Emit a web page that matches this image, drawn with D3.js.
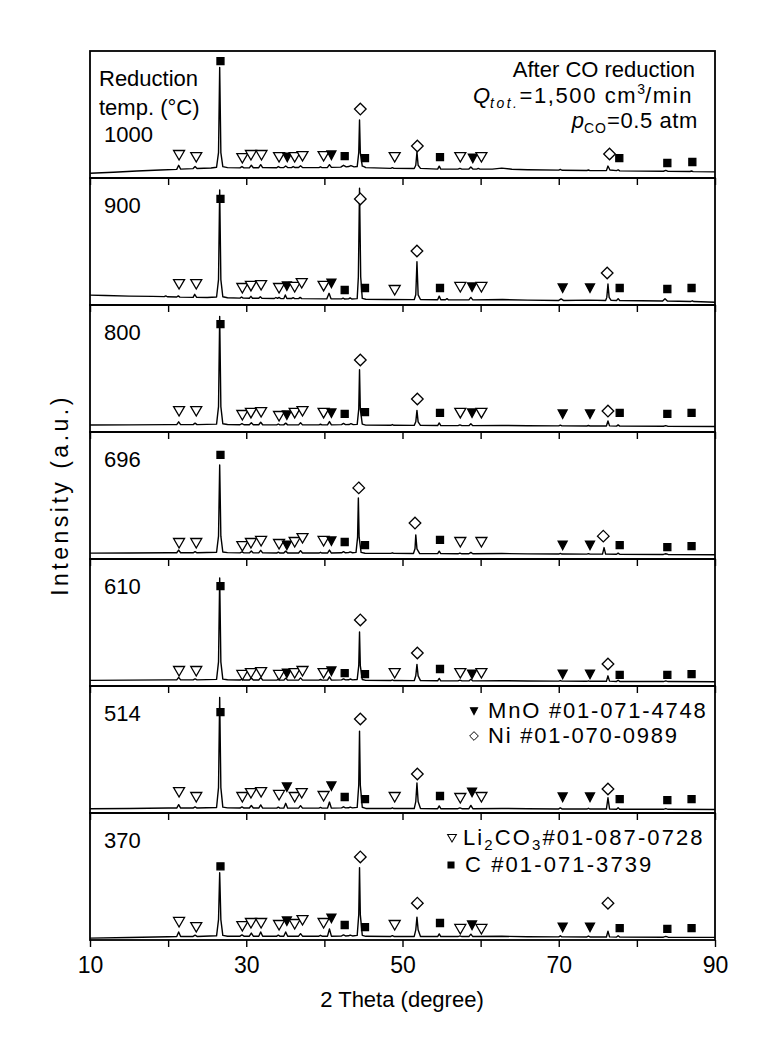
<!DOCTYPE html>
<html><head><meta charset="utf-8">
<script src="https://cdn.jsdelivr.net/npm/d3@7"></script>
<style>
body{margin:0;background:#fff}
svg{display:block}
text{font-family:"Liberation Sans",Arial,sans-serif;fill:#000}
</style>
</head><body>
<svg id="chart" width="771" height="1046"></svg>
<script>
// ---------------- DATA ----------------
const temps = ["1000","900","800","696","610","514","370"];
const xTicks = [10,20,30,40,50,60,70,80,90];
const xTickLabels = [10,30,50,70,90];

// XRD traces [2theta, intensity (a.u., 0-100 per panel)]
const trace1000 = [[10,3.7],[13,4.5],[16,5.5],[19,6.3],[21.1,6.8],[21.35,10],[21.6,7],[23.2,7.4],[23.45,9],[23.7,7.5],[25.5,7.9],[26.2,8.5],[26.45,20],[26.6,87],[26.75,20],[27,9],[27.6,8.2],[29.2,8],[29.45,9],[29.7,8],[30.4,8],[30.65,10],[30.9,8.1],[31.6,8.1],[31.85,10.5],[32.1,8.2],[33.9,8.1],[34.1,9],[34.35,8.2],[34.8,8.2],[35.05,9.5],[35.3,8.2],[35.8,8.2],[36.0,9],[36.2,8.3],[36.7,8.3],[36.95,9.6],[37.2,8.3],[39.3,8.2],[39.5,8.8],[39.7,8.2],[40.4,8.3],[40.65,10.5],[40.9,8.4],[42.1,8.6],[42.45,10],[42.8,8.8],[43.1,9],[43.4,9.8],[43.8,8.8],[44.2,9],[44.4,20],[44.5,45.7],[44.6,20],[44.85,9.4],[45.0,9.2],[45.3,8.2],[48.5,7.6],[48.7,8.2],[48.9,7.6],[51.5,7.5],[51.7,10],[51.85,20.5],[52.0,10],[52.3,7.6],[54.5,7],[54.7,9.3],[54.9,7],[57.1,7],[57.35,7.6],[57.6,7],[58.5,7],[58.75,8.6],[59.0,7],[59.5,7],[59.7,7.5],[59.9,7],[61.5,7],[62.7,7.8],[64,6.9],[66,6.5],[70,6.2],[70.2,6.8],[70.4,6.1],[73.6,5.9],[73.8,6.3],[74,5.8],[76.1,5.8],[76.3,9.4],[76.55,6.3],[77.4,5.8],[77.6,6.5],[77.8,5.6],[83.4,5.3],[83.7,6.0],[84,5.2],[86.8,5.1],[87,5.5],[87.2,5],[90,4.8]];
const trace900 = [[10,7.8],[12,7.5],[15,7],[18,6.8],[19.5,6.6],[19.7,7.2],[19.9,6.5],[21.1,6.3],[21.3,7.2],[21.5,6.2],[23.2,6.0],[23.4,8.4],[23.65,6.0],[25,5.9],[26.2,6.3],[26.45,20],[26.6,90.5],[26.75,20],[27,6.5],[27.6,5.7],[29.2,5.4],[29.4,6.3],[29.6,5.4],[30.4,5.3],[30.6,6.8],[30.8,5.3],[31.6,5.3],[31.8,6.5],[32,5.3],[33.6,5.1],[33.8,5.9],[34.0,5.2],[34.2,6.0],[34.4,5.1],[34.8,5.0],[35.0,7.9],[35.2,5.1],[35.8,5.1],[36.0,5.8],[36.2,5.0],[36.7,5.0],[36.9,6],[37.1,5],[40.3,4.8],[40.6,9.2],[40.85,4.9],[42.2,4.8],[42.4,5.4],[42.6,4.7],[43.1,4.8],[43.3,5.6],[43.5,4.7],[44.2,5],[44.35,22],[44.5,92],[44.65,22],[44.85,5.2],[45.3,4.5],[48,4.3],[51.5,4.2],[51.7,8],[51.85,34],[52,8],[52.3,4.3],[54.5,4.1],[54.7,7],[54.9,4.1],[55.5,4.1],[55.7,5],[55.9,4],[58.5,4],[58.75,6],[59,4],[62.8,4.3],[66,3.8],[70,3.6],[70.3,4.8],[70.6,3.6],[73.8,3.8],[76,3.5],[76.15,6],[76.3,16.5],[76.45,6],[76.7,3.7],[77.4,3.6],[77.6,5],[77.8,3.5],[83.3,3.1],[83.6,5],[83.9,3.1],[86.9,2.8],[87.1,3.3],[87.3,2.7],[90,2.2]];
const trace800 = [[10,5.5],[15,5.6],[20,5.8],[21.1,5.8],[21.35,8],[21.6,5.8],[23.2,5.8],[23.45,7],[23.7,5.8],[26.2,6.2],[26.45,20],[26.6,91],[26.75,20],[27,6.5],[27.6,5.9],[29.2,5.7],[29.45,6.6],[29.7,5.7],[30.4,5.7],[30.65,7.2],[30.9,5.7],[31.6,5.7],[31.85,7.7],[32.1,5.7],[33.9,5.6],[34.1,6.3],[34.3,5.6],[34.8,5.6],[35.05,7],[35.3,5.6],[36.7,5.6],[36.95,7.2],[37.2,5.6],[39.3,5.6],[39.5,6.1],[39.7,5.6],[40.4,5.6],[40.65,8.2],[40.9,5.6],[42.2,5.8],[42.45,6.8],[42.7,5.8],[43.2,5.9],[43.4,6.6],[43.7,5.8],[44.2,6],[44.4,18],[44.5,49],[44.6,18],[44.85,6.2],[45.3,5.4],[48.5,5.3],[48.7,5.9],[48.9,5.3],[51.5,5.2],[51.7,8],[51.85,17],[52,8],[52.3,5.2],[54.5,5.1],[54.7,7.1],[54.9,5.1],[57.1,5],[57.35,5.6],[57.6,5],[58.5,5],[58.75,6.5],[59,5],[62.7,5.2],[66,4.9],[70,4.8],[70.2,5.4],[70.4,4.8],[73.6,4.7],[73.8,5.1],[74,4.7],[76.1,4.7],[76.3,8.7],[76.5,4.8],[77.4,4.6],[77.6,5.6],[77.8,4.6],[83.4,4.5],[83.7,5.0],[84,4.4],[90,4.3]];
const trace696 = [[10,4.6],[15,4.7],[20,4.9],[21.1,4.9],[21.35,7],[21.6,4.9],[23.2,4.9],[23.45,5.8],[23.7,4.9],[26.2,5.3],[26.45,18],[26.6,74],[26.75,18],[27,5.5],[27.6,5],[29.2,4.8],[29.45,5.6],[29.7,4.8],[30.4,4.8],[30.65,6.3],[30.9,4.8],[31.6,4.8],[31.85,6.8],[32.1,4.8],[33.9,4.7],[34.1,5.4],[34.3,4.7],[34.8,4.7],[35.05,6.2],[35.3,4.7],[36.7,4.7],[36.95,6.6],[37.2,4.7],[39.3,4.7],[39.5,5.3],[39.7,4.7],[40.4,4.7],[40.65,7],[40.9,4.7],[42.2,4.9],[42.45,5.8],[42.7,4.9],[43.1,5],[43.3,5.6],[43.6,4.9],[44.05,5.2],[44.25,17],[44.35,48],[44.45,17],[44.7,5.2],[45.2,4.5],[48.5,4.4],[48.7,4.9],[48.9,4.4],[51.4,4.3],[51.6,8],[51.7,19],[51.85,8],[52.2,4.3],[54.5,4.2],[54.7,6.2],[54.9,4.2],[57.1,4.1],[57.35,4.7],[57.6,4.1],[58.5,4.1],[58.75,5.2],[59,4.1],[62.7,4.3],[66,4],[70,3.9],[70.2,4.4],[70.4,3.9],[73.6,3.8],[73.8,4.2],[74,3.8],[75.6,3.8],[75.8,9],[76,3.9],[77.4,3.7],[77.6,4.6],[77.8,3.7],[83.4,3.6],[83.7,4.1],[84,3.6],[90,3.4]];
const trace610 = [[10,4.4],[15,4.6],[20,4.8],[21.1,4.8],[21.35,6.8],[21.6,4.8],[23.2,4.8],[23.45,5.6],[23.7,4.8],[26.2,5.2],[26.45,19],[26.6,85],[26.75,19],[27,5.4],[27.6,4.9],[29.2,4.7],[29.45,5.5],[29.7,4.7],[30.4,4.7],[30.65,6.2],[30.9,4.7],[31.6,4.7],[31.85,6.6],[32.1,4.7],[33.9,4.6],[34.1,5.2],[34.3,4.6],[34.8,4.6],[35.05,6.2],[35.3,4.6],[36.7,4.6],[36.95,6.4],[37.2,4.6],[39.3,4.6],[39.5,5.1],[39.7,4.6],[40.4,4.6],[40.65,7.2],[40.9,4.6],[42.2,4.8],[42.45,5.6],[42.7,4.8],[43.1,4.9],[43.3,5.5],[43.6,4.8],[44.2,5.1],[44.4,16],[44.5,42.5],[44.6,16],[44.85,5.1],[45.3,4.4],[48.5,4.3],[48.7,4.8],[48.9,4.3],[51.5,4.2],[51.7,8],[51.85,17],[52,8],[52.3,4.2],[54.5,4.1],[54.7,6],[54.9,4.1],[57.1,4],[57.35,4.6],[57.6,4],[58.5,4],[58.75,5.3],[59,4],[62.7,4.2],[66,3.9],[70,3.8],[70.2,4.3],[70.4,3.8],[73.6,3.7],[73.8,4.1],[74,3.7],[76.1,3.7],[76.3,8],[76.5,3.8],[77.4,3.6],[77.6,4.5],[77.8,3.6],[83.4,3.5],[83.7,4],[84,3.5],[90,3.3]];
const trace514 = [[10,3.4],[15,3.6],[20,3.9],[21.1,3.9],[21.35,6.6],[21.6,3.9],[23.2,3.9],[23.45,4.8],[23.7,3.9],[26.2,4.3],[26.45,20],[26.6,91],[26.75,20],[27,4.6],[27.6,4],[29.2,3.9],[29.45,4.8],[29.7,3.9],[30.4,3.9],[30.65,5.9],[30.9,3.9],[31.6,3.9],[31.85,6.4],[32.1,3.9],[33.9,3.8],[34.1,4.6],[34.3,3.8],[34.8,3.8],[35.05,7.6],[35.3,3.8],[36.7,3.8],[36.95,5.8],[37.2,3.8],[39.3,3.8],[39.5,4.4],[39.7,3.8],[40.4,3.8],[40.65,8.6],[40.9,3.8],[42.2,4],[42.45,4.9],[42.7,4],[43.1,4.1],[43.3,4.7],[43.6,4],[44.2,4.4],[44.4,22],[44.5,64.5],[44.6,22],[44.85,4.5],[45.3,3.6],[48.5,3.5],[48.7,4.1],[48.9,3.5],[51.5,3.5],[51.7,9],[51.85,23.6],[52,9],[52.3,3.5],[54.5,3.4],[54.7,5.6],[54.9,3.4],[57.1,3.4],[57.35,4],[57.6,3.4],[58.5,3.4],[58.75,6],[59,3.4],[62.7,3.6],[66,3.3],[70,3.2],[70.2,4],[70.4,3.2],[73.6,3.1],[73.8,3.7],[74,3.1],[76.1,3.1],[76.3,12],[76.5,3.2],[77.4,3],[77.6,4.2],[77.8,3],[83.4,2.9],[83.7,3.5],[84,2.9],[90,2.8]];
const trace370 = [[10,1.5],[15,2],[20,2.6],[21.1,2.7],[21.35,6.3],[21.6,2.7],[23.2,2.8],[23.45,3.8],[23.7,2.8],[26.2,3.3],[26.45,16],[26.6,53],[26.75,16],[27,3.6],[27.6,3],[29.2,3],[29.45,4],[29.7,3],[30.4,3],[30.65,5.5],[30.9,3],[31.6,3],[31.85,6.3],[32.1,3],[33.9,3],[34.1,3.8],[34.3,3],[34.8,3],[35.05,6.3],[35.3,3],[36.7,3],[36.95,5],[37.2,3],[39.3,3],[39.5,3.7],[39.7,3],[40.4,3],[40.65,8.7],[40.9,3],[42.2,3.2],[42.45,4],[42.7,3.2],[43.1,3.3],[43.3,3.9],[43.6,3.2],[44.2,3.6],[44.4,20],[44.5,57],[44.6,20],[44.85,3.7],[45.3,2.9],[48.5,2.8],[48.7,3.4],[48.9,2.8],[51.5,2.8],[51.7,8],[51.85,18],[52,8],[52.3,2.8],[54.5,2.7],[54.7,4.8],[54.9,2.7],[57.1,2.7],[57.35,3.2],[57.6,2.7],[58.5,2.7],[58.75,4.6],[59,2.7],[62.7,2.9],[66,2.6],[70,2.5],[70.2,3.3],[70.4,2.5],[73.6,2.4],[73.8,3.1],[74,2.4],[76.1,2.4],[76.3,7],[76.5,2.5],[77.4,2.3],[77.6,3.4],[77.8,2.3],[83.4,2.2],[83.7,2.8],[84,2.2],[90,2.1]];

// Phase markers [phase, 2theta, intensity]; L=Li2CO3, M=MnO, N=Ni, C=graphite
const marks1000 = [["L",21.4,18.1],["L",23.6,16.5],["C",26.7,92],["L",29.5,15.7],["L",30.6,18.1],["L",31.95,18.1],["L",34.2,16.5],["M",35.25,16.5],["L",36.2,16.5],["L",37.2,17.3],["L",39.9,17.3],["M",40.9,18.1],["C",42.6,17.3],["N",44.6,54.3],["C",45.2,15.7],["L",49,16.5],["N",51.9,25.2],["C",54.8,16.5],["L",57.4,16.5],["M",59,15.7],["L",60.1,16.5],["N",76.5,18.9],["C",77.75,15.7],["C",83.9,11.8],["C",87.1,12.6]];
const marks900 = [["L",21.4,16.5],["L",23.6,16.5],["C",26.7,83.5],["L",29.5,13.4],["L",30.6,15],["L",31.9,15.7],["L",34.2,13.4],["M",35.2,15],["L",36.2,14.2],["L",37.1,17.3],["L",39.9,15],["M",40.9,17.3],["C",42.6,11.8],["N",44.6,83.5],["C",45.2,13.4],["L",49,11.8],["N",51.85,42.5],["C",54.8,13.4],["L",57.4,14.2],["M",58.9,14.2],["L",60.1,14.2],["M",70.5,13.4],["M",74,13.4],["N",76.2,25.2],["C",77.8,13.4],["C",83.9,12.6],["C",87,13.4]];
const marks800 = [["L",21.4,16.5],["L",23.6,16.5],["C",26.7,85],["L",29.5,13.4],["L",30.6,15],["L",31.9,15.7],["L",34.2,12.6],["M",35.2,13.4],["L",36.2,15],["L",37.2,16.5],["L",39.9,15],["M",40.9,15],["C",42.6,14.2],["N",44.6,56.7],["C",45.2,15.7],["N",51.9,26],["C",54.8,15],["L",57.4,15],["M",58.9,15],["L",60.1,15],["M",70.5,14.2],["M",74,14.2],["N",76.3,16.5],["C",77.8,15],["C",83.9,14.2],["C",87,15]];
const marks696 = [["L",21.4,12.6],["L",23.6,12.6],["C",26.7,82],["L",29.5,10.2],["L",30.6,12.6],["L",31.9,14.2],["L",34.2,11.8],["M",35.2,11],["L",36.2,13.4],["L",37.2,16.5],["L",39.9,14.2],["M",40.9,14.2],["C",42.6,13.4],["N",44.4,56],["C",45.2,11],["N",51.6,28.3],["C",54.8,15],["L",57.4,13.4],["L",60.1,13.4],["M",70.5,11],["M",74,11],["N",75.7,18],["C",77.8,11],["C",83.9,9.4],["C",87,10.2]];
const marks610 = [["L",21.4,11.8],["L",23.6,11.8],["C",26.7,78.7],["L",29.5,8.7],["L",30.6,10.2],["L",31.9,11],["L",34.2,8.7],["M",35.2,10.2],["L",36.2,10.2],["L",37.2,11.8],["L",39.9,10.2],["M",40.9,11.8],["C",42.6,10.2],["N",44.6,52],["C",45.2,9.4],["L",49,10.2],["N",51.9,26],["C",54.8,13.4],["L",57.4,10.2],["M",58.9,9.4],["L",60.1,10.2],["M",70.5,9.4],["M",74,9.4],["N",76.3,17.3],["C",77.8,8.7],["C",83.9,8.7],["C",87,9.4]];
const marks514 = [["L",21.4,16.5],["L",23.6,12.6],["C",26.7,79.5],["L",29.5,12.6],["L",30.6,15.7],["L",31.9,16.5],["L",34.2,14.2],["M",35.2,20.5],["L",36.2,12.6],["L",37.1,15.7],["L",39.9,13.4],["M",40.9,21.3],["C",42.6,12.6],["N",44.6,74],["C",45.2,11],["L",49,12.6],["N",51.9,30.7],["C",54.8,13.4],["L",57.4,11.8],["M",58.9,16.5],["L",60.1,12.6],["M",70.5,12.6],["M",74,12.6],["N",76.3,18.9],["C",77.8,11],["C",83.9,10.2],["C",87,11]];
const marks370 = [["L",21.4,14.2],["L",23.6,10.2],["C",26.7,58],["L",29.5,11],["L",30.6,13.4],["L",31.9,13.4],["L",34.2,11.8],["M",35.2,15],["L",36.2,12.6],["L",37.2,15.7],["L",39.9,13.4],["M",40.9,17.3],["C",42.6,11.8],["N",44.6,65.4],["C",45.2,10.2],["L",49,11.8],["N",51.9,29],["C",54.8,13.4],["L",57.4,8.7],["M",58.9,11.8],["L",60.1,8.7],["M",70.5,10.2],["M",74,10.2],["N",76.3,29],["C",77.8,9.4],["C",83.9,8.7],["C",87,9.4]];

const traces = [trace1000, trace900, trace800, trace696, trace610, trace514, trace370];
const marks = [marks1000, marks900, marks800, marks696, marks610, marks514, marks370];

const legendPhases = ["M","N","L","C"];
const legendLabels = ["MnO #01-071-4748","Ni #01-070-0989","Li2CO3 #01-087-0728","C #01-071-3739"];

// ---------------- DRAW ----------------
const svg = d3.select("#chart");
const x = d3.scaleLinear().domain([10,90]).range([90,715]);
const band = d3.scaleBand().domain(temps).range([51,940]).paddingInner(0);
const h = band.bandwidth();

const shapes = {
  L: "M-5.5,-4.5L5.5,-4.5L0,5Z",
  M: "M-4.5,-4L4.5,-4L0,4.5Z",
  N: "M0,-5.8L5.8,0L0,5.8L-5.8,0Z",
  C: "M-3.5,-3.5L3.5,-3.5L3.5,3.5L-3.5,3.5Z"
};
const fills = {L:"#fff", M:"#000", N:"#fff", C:"#000"};

temps.forEach((t,i)=>{
  const y0 = band(t);
  const y = d3.scaleLinear().domain([0,100]).range([y0+h, y0]);
  const g = svg.append("g");
  g.append("path").datum(traces[i])
    .attr("d", d3.line().x(d=>x(d[0])).y(d=>y(d[1])))
    .attr("fill","none").attr("stroke","#000").attr("stroke-width",1.4)
    .attr("stroke-linejoin","round");
  g.selectAll("path.mk").data(marks[i]).join("path").attr("class","mk")
    .attr("transform", d=>`translate(${x(d[1])},${y(d[2])})`)
    .attr("d", d=>shapes[d[0]])
    .attr("fill", d=>fills[d[0]]).attr("stroke","#000").attr("stroke-width",1.3);
  const ax = g.append("g").attr("transform",`translate(0,${y0+h})`)
    .call(d3.axisBottom(x).tickValues(xTicks).tickSize(7).tickSizeOuter(0)
      .tickFormat(d => (i===temps.length-1 && xTickLabels.includes(d)) ? d : ""));
  ax.select(".domain").remove();
  ax.selectAll(".tick line").attr("stroke","#000").attr("stroke-width",1.4);
  ax.selectAll(".tick text").attr("font-size",23).attr("font-family","Liberation Sans, Arial, sans-serif").attr("dy","1.0em").attr("fill","#000");
  g.append("rect").attr("x",x(10)).attr("y",y0).attr("width",x(90)-x(10)).attr("height",h)
    .attr("fill","none").attr("stroke","#000").attr("stroke-width",1.8);
  g.append("text").attr("x", 104).attr("y", i===0 ? y0+91 : y0+35).attr("font-size",22).text(t);
});

// Top-left title
svg.append("text").attr("x",99).attr("y",86).attr("font-size",22).text("Reduction");
svg.append("text").attr("x",99).attr("y",115).attr("font-size",22).text("temp. (°C)");

// Top-right conditions
svg.append("text").attr("x",695).attr("y",77).attr("font-size",22).attr("text-anchor","end").text("After CO reduction");
const q = svg.append("text").attr("x",693).attr("y",103).attr("font-size",22).attr("text-anchor","end");
q.append("tspan").attr("font-style","italic").text("Q");
q.append("tspan").attr("font-style","italic").attr("font-size",14).attr("dy",5).attr("letter-spacing",2.5).text("tot.");
q.append("tspan").attr("dy",-5).attr("letter-spacing",1.6).text("=1,500 cm");
q.append("tspan").attr("font-size",14).attr("dy",-9).text("3");
q.append("tspan").attr("dy",9).attr("letter-spacing",1.6).text("/min");
const p = svg.append("text").attr("x",698).attr("y",128).attr("font-size",22).attr("text-anchor","end");
p.append("tspan").attr("font-style","italic").text("p");
p.append("tspan").attr("font-size",14).attr("dy",5).attr("letter-spacing",1).text("CO");
p.append("tspan").attr("dy",-5).attr("letter-spacing",0.6).text("=0.5 atm");

// Legends
const legendPos = [[474,488,718],[474,488,743],[452,463,845],[451,465,872]];
const legendScale = {L:0.8, M:0.8, N:0.75, C:0.85};
const legendSpacing = [1.8, 1.8, 2.1, 2.1];
legendPhases.forEach((ph,k)=>{
  const [mx,tx,by] = legendPos[k];
  svg.append("path").attr("d",shapes[ph]).attr("transform",`translate(${mx},${by-7}) scale(${legendScale[ph]})`)
    .attr("fill",fills[ph]).attr("stroke","#000").attr("stroke-width",1.3);
  const tt = svg.append("text").attr("x",tx).attr("y",by).attr("font-size",22).attr("letter-spacing",legendSpacing[k]);
  const lab = legendLabels[k];
  if (ph==="L"){
    tt.append("tspan").text("Li");
    tt.append("tspan").attr("font-size",15).attr("dy",5).text("2");
    tt.append("tspan").attr("dy",-5).text("CO");
    tt.append("tspan").attr("font-size",15).attr("dy",5).text("3");
    tt.append("tspan").attr("dy",-5).text(lab.slice(lab.indexOf("#")));
  } else {
    tt.text(lab);
  }
});

// Axis titles
svg.append("text").attr("x",402).attr("y",1007).attr("font-size",22).attr("text-anchor","middle").text("2 Theta (degree)");
svg.append("text").attr("transform","translate(68,495) rotate(-90)").attr("font-size",23).attr("letter-spacing",3.5).attr("text-anchor","middle").text("Intensity (a.u.)");
</script>
</body></html>
